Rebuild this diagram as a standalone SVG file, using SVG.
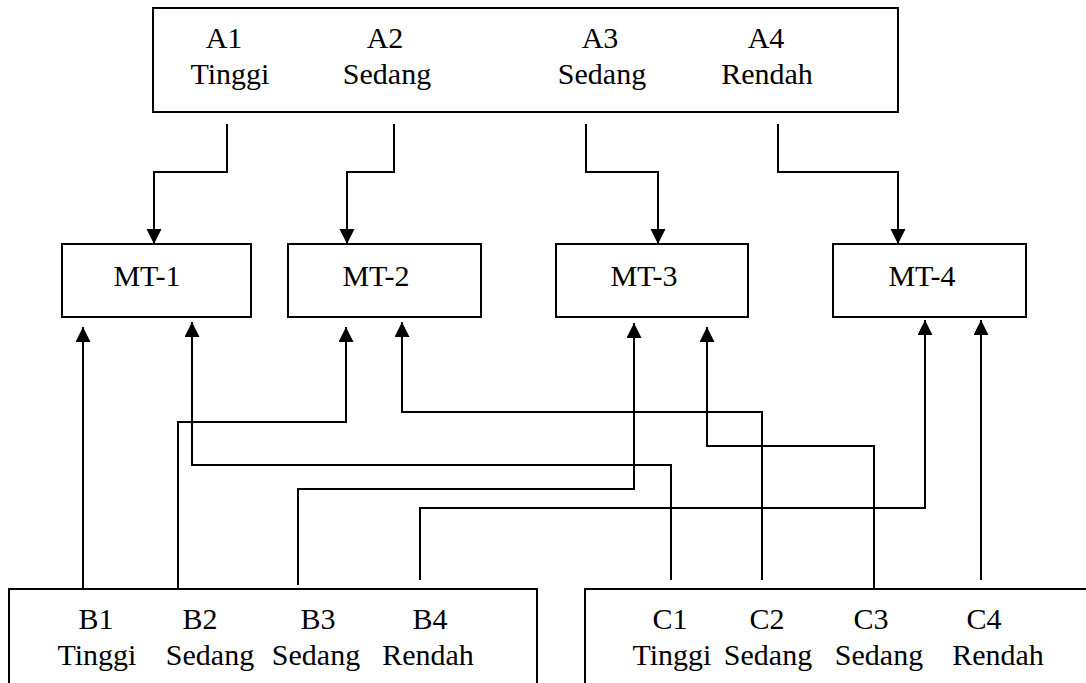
<svg xmlns="http://www.w3.org/2000/svg" width="1086" height="683" viewBox="0 0 1086 683">
<style>
.box{fill:#fff;stroke:#000;stroke-width:2}
.t{font-family:"Liberation Serif","Times New Roman",serif;font-size:30px;fill:#000;text-anchor:middle}
.c{fill:none;stroke:#000;stroke-width:2}
</style>
<defs>
<marker id="ah" markerUnits="userSpaceOnUse" markerWidth="16" markerHeight="16" refX="15" refY="7.5" orient="auto">
<path d="M0,0 L15,7.5 L0,15 z" fill="#000"/>
</marker>
</defs>
<rect width="1086" height="683" fill="#fff"/>
<g id="nodeA">
<rect class="box" x="153" y="8" width="745" height="104"/>
<text class="t" x="224" y="48">A1</text><text class="t" x="230" y="84">Tinggi</text>
<text class="t" x="385" y="48">A2</text><text class="t" x="387" y="84">Sedang</text>
<text class="t" x="600" y="48">A3</text><text class="t" x="602" y="84">Sedang</text>
<text class="t" x="766" y="48">A4</text><text class="t" x="767" y="84">Rendah</text>
</g>
<g id="mt1"><rect class="box" x="62" y="244" width="189" height="73"/><text class="t" x="147" y="286">MT-1</text></g>
<g id="mt2"><rect class="box" x="288" y="244" width="193" height="73"/><text class="t" x="376" y="286">MT-2</text></g>
<g id="mt3"><rect class="box" x="556" y="244" width="192" height="73"/><text class="t" x="644" y="286">MT-3</text></g>
<g id="mt4"><rect class="box" x="833" y="244" width="193" height="73"/><text class="t" x="922" y="286">MT-4</text></g>
<g id="nodeB">
<rect class="box" x="9" y="589" width="528" height="110"/>
<text class="t" x="96" y="629">B1</text><text class="t" x="97" y="665">Tinggi</text>
<text class="t" x="200" y="629">B2</text><text class="t" x="210" y="665">Sedang</text>
<text class="t" x="318" y="629">B3</text><text class="t" x="316" y="665">Sedang</text>
<text class="t" x="430" y="629">B4</text><text class="t" x="428" y="665">Rendah</text>
</g>
<g id="nodeC">
<rect class="box" x="585" y="589" width="520" height="110"/>
<text class="t" x="670" y="629">C1</text><text class="t" x="672" y="665">Tinggi</text>
<text class="t" x="767" y="629">C2</text><text class="t" x="768" y="665">Sedang</text>
<text class="t" x="871" y="629">C3</text><text class="t" x="879" y="665">Sedang</text>
<text class="t" x="984" y="629">C4</text><text class="t" x="998" y="665">Rendah</text>
</g>
<g id="connectors">
<polyline class="c" marker-end="url(#ah)" points="227,124 227,172 154,172 154,244"/>
<polyline class="c" marker-end="url(#ah)" points="394,124 394,172 347,172 347,244"/>
<polyline class="c" marker-end="url(#ah)" points="586,124 586,172 658,172 658,244"/>
<polyline class="c" marker-end="url(#ah)" points="778,124 778,172 898,172 898,244"/>
<polyline class="c" marker-end="url(#ah)" points="83,589 83,327"/>
<polyline class="c" marker-end="url(#ah)" points="671,580 671,465 192,465 192,322"/>
<polyline class="c" marker-end="url(#ah)" points="178,589 178,422 346,422 346,327"/>
<polyline class="c" marker-end="url(#ah)" points="762,580 762,412 402,412 402,322"/>
<polyline class="c" marker-end="url(#ah)" points="298,585 298,489 634,489 634,323"/>
<polyline class="c" marker-end="url(#ah)" points="874,589 874,446 707,446 707,327"/>
<polyline class="c" marker-end="url(#ah)" points="420,580 420,508 925,508 925,320"/>
<polyline class="c" marker-end="url(#ah)" points="981,580 981,320"/>
</g>
</svg>
